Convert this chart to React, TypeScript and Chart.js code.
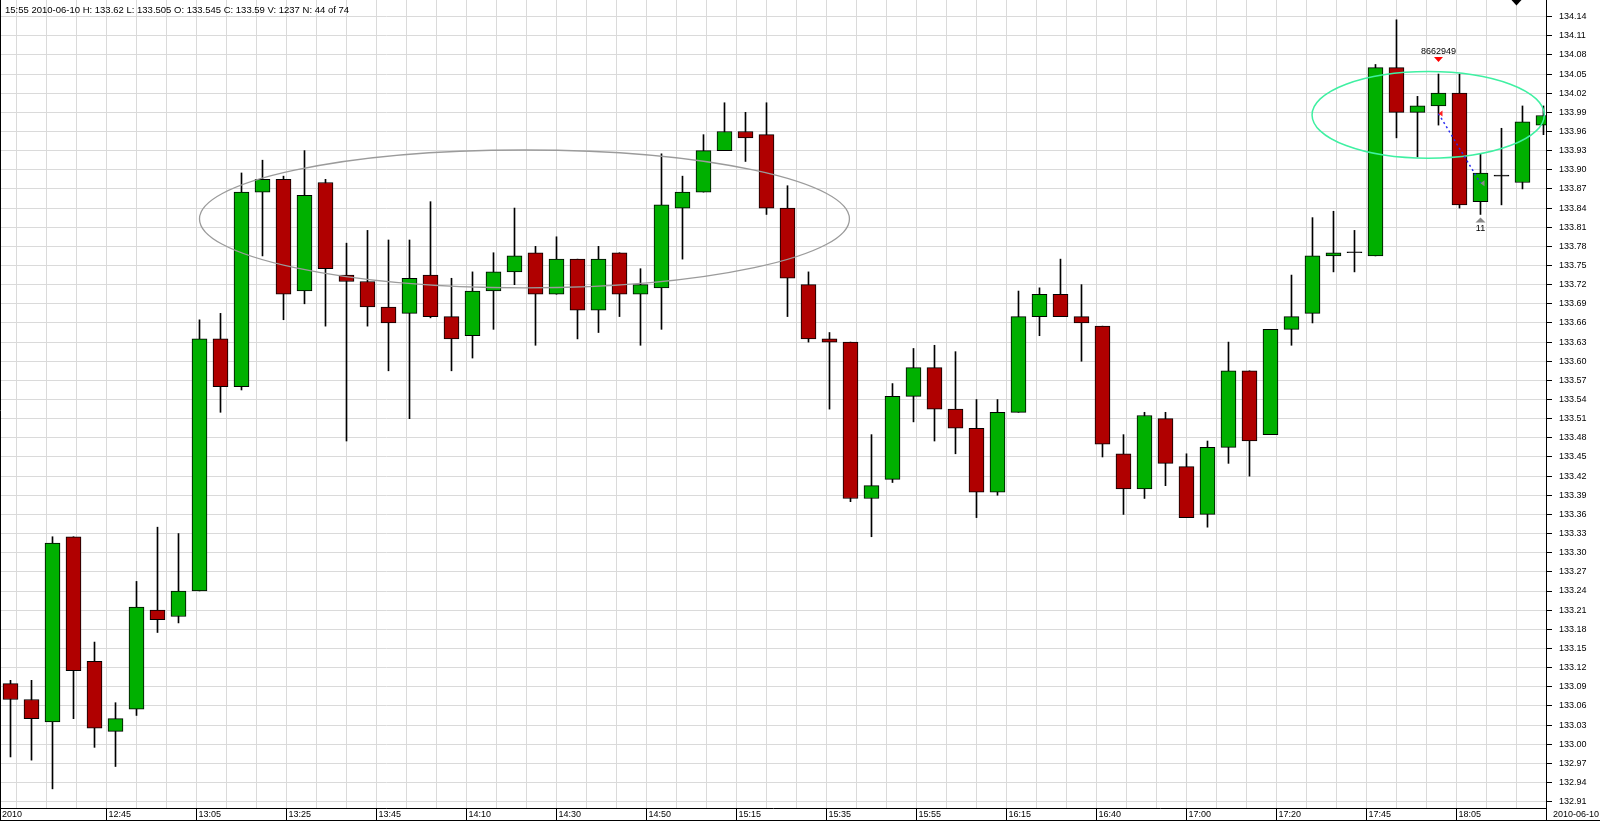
import React, { useEffect, useRef } from 'react';
import { Chart, registerables } from 'chart.js';

Chart.register(...registerables);

// ---------- data ----------
const barTimes = [
  '12:20', '12:25', '12:30', '12:35', '12:40', '12:45', '12:50', '12:55',
  '13:00', '13:05', '13:10', '13:15', '13:20', '13:25', '13:30', '13:35', '13:40', '13:45', '13:50', '13:55',
  '14:00', '14:05', '14:10', '14:15', '14:20', '14:25', '14:30', '14:35', '14:40', '14:45', '14:50', '14:55',
  '15:00', '15:05', '15:10', '15:15', '15:20', '15:25', '15:30', '15:35', '15:40', '15:45', '15:50', '15:55',
  '16:00', '16:05', '16:10', '16:15', '16:20', '16:25', '16:30', '16:35', '16:40', '16:45', '16:50', '16:55',
  '17:00', '17:05', '17:10', '17:15', '17:20', '17:25', '17:30', '17:35', '17:40', '17:45', '17:50', '17:55',
  '18:00', '18:05', '18:10', '18:15', '18:20', '18:25',
];

const opens = [
  133.095, 133.07, 133.035, 133.325, 133.13, 133.02, 133.055, 133.21, 133.20, 133.24,
  133.635, 133.56, 133.865, 133.885, 133.71, 133.88, 133.735, 133.725, 133.685, 133.675,
  133.735, 133.67, 133.64, 133.71, 133.74, 133.77, 133.705, 133.76, 133.68, 133.77,
  133.705, 133.715, 133.84, 133.865, 133.93, 133.96, 133.955, 133.84, 133.72, 133.635,
  133.63, 133.385, 133.415, 133.545, 133.59, 133.525, 133.495, 133.395, 133.52, 133.67,
  133.705, 133.67, 133.655, 133.455, 133.40, 133.51, 133.435, 133.36, 133.465, 133.585,
  133.485, 133.65, 133.675, 133.765, 133.77, 133.765, 134.06, 133.99, 134.00, 134.02,
  133.85, 133.89, 133.88, 133.97,
];

const highs = [
  133.10, 133.10, 133.325, 133.325, 133.16, 133.065, 133.255, 133.34, 133.33, 133.665,
  133.675, 133.895, 133.915, 133.89, 133.93, 133.885, 133.785, 133.805, 133.79, 133.79,
  133.85, 133.73, 133.74, 133.77, 133.84, 133.78, 133.795, 133.76, 133.78, 133.77,
  133.745, 133.925, 133.89, 133.955, 134.005, 133.99, 134.005, 133.875, 133.74, 133.645,
  133.63, 133.485, 133.565, 133.62, 133.625, 133.615, 133.54, 133.54, 133.71, 133.715,
  133.76, 133.72, 133.655, 133.485, 133.52, 133.52, 133.455, 133.475, 133.63, 133.585,
  133.65, 133.735, 133.825, 133.835, 133.805, 134.065, 134.135, 134.015, 134.05, 134.05,
  133.925, 133.965, 134.00, 134.00,
];

const lows = [
  132.98, 132.975, 132.93, 133.04, 132.995, 132.965, 133.045, 133.175, 133.19, 133.24,
  133.52, 133.555, 133.765, 133.665, 133.69, 133.655, 133.475, 133.655, 133.585, 133.51,
  133.668, 133.585, 133.605, 133.65, 133.72, 133.625, 133.705, 133.635, 133.645, 133.67,
  133.625, 133.65, 133.76, 133.865, 133.93, 133.913, 133.83, 133.67, 133.63, 133.525,
  133.38, 133.325, 133.41, 133.505, 133.475, 133.455, 133.355, 133.39, 133.52, 133.64,
  133.67, 133.60, 133.45, 133.36, 133.385, 133.405, 133.355, 133.34, 133.44, 133.42,
  133.485, 133.625, 133.66, 133.74, 133.74, 133.765, 133.95, 133.92, 133.97, 133.84,
  133.83, 133.845, 133.87, 133.955,
];

const closes = [
  133.07, 133.04, 133.315, 133.115, 133.025, 133.04, 133.215, 133.195, 133.24, 133.635,
  133.56, 133.865, 133.885, 133.705, 133.86, 133.745, 133.725, 133.685, 133.66, 133.73,
  133.67, 133.635, 133.71, 133.74, 133.765, 133.705, 133.76, 133.68, 133.76, 133.705,
  133.72, 133.845, 133.865, 133.93, 133.96, 133.95, 133.84, 133.73, 133.635, 133.63,
  133.385, 133.405, 133.545, 133.59, 133.525, 133.495, 133.395, 133.52, 133.67, 133.705,
  133.67, 133.66, 133.47, 133.40, 133.515, 133.44, 133.355, 133.465, 133.585, 133.475,
  133.65, 133.67, 133.765, 133.77, 133.77, 134.06, 133.99, 134.00, 134.02, 133.845,
  133.895, 133.89, 133.975, 133.985,
];

const yTickValues = [
  132.91, 132.94, 132.97, 133.00, 133.03, 133.06, 133.09, 133.12, 133.15, 133.18,
  133.21, 133.24, 133.27, 133.30, 133.33, 133.36, 133.39, 133.42, 133.45, 133.48,
  133.51, 133.54, 133.57, 133.60, 133.63, 133.66, 133.69, 133.72, 133.75, 133.78,
  133.81, 133.84, 133.87, 133.90, 133.93, 133.96, 133.99, 134.02, 134.05, 134.08,
  134.11, 134.14,
];

const headerText = '15:55 2010-06-10 H: 133.62 L: 133.505 O: 133.545 C: 133.59 V: 1237 N: 44 of 74';
const leftDateLabel = '2010';
const rightDateLabel = '2010-06-10';

// drawn objects (in bar-index / price units)
const ellipseBoxes = [
  { x1: 9.0, x2: 39.95, yLow: 133.715, yHigh: 133.931, color: '#9b9b9b', width: 1.3 },
  { x1: 61.98, x2: 73.04, yLow: 133.918, yHigh: 134.054, color: '#3ff0a2', width: 1.5 },
];
const tradeLine = { bar1: 68, price1: 133.988, bar2: 70, price2: 133.879 };
const sellSignal = { bar: 68, text: '8662949' };
const buySignal = { bar: 70, text: '11' };
const cursorMarkerBar = 71.714;

// ---------- style / layout constants ----------
const FONT = "'Liberation Sans', Arial, sans-serif";
const GREEN = '#00b000';
const RED = '#b00000';
const GRID = '#dadada';
const X_MIN = -0.5;
const X_MAX = 73.12;
const Y_MIN = 132.9;
const Y_MAX = 134.166;
const GRID_START = 2 / 7;
const GRID_STEP = 10 / 7;

const bodyColors = opens.map((o, i) => (closes[i] > o ? GREEN : closes[i] < o ? RED : '#000000'));

const overlayPlugin = {
  id: 'overlay',
  afterDraw(chart: any) {
    const ctx = chart.ctx as CanvasRenderingContext2D;
    const xs = chart.scales.x;
    const ys = chart.scales.y;
    const area = chart.chartArea;
    const W = chart.width;
    const H = chart.height;
    ctx.save();

    // ellipses
    for (const e of ellipseBoxes) {
      const px1 = xs.getPixelForValue(e.x1);
      const px2 = xs.getPixelForValue(e.x2);
      const pyTop = ys.getPixelForValue(e.yHigh);
      const pyBot = ys.getPixelForValue(e.yLow);
      ctx.beginPath();
      ctx.strokeStyle = e.color;
      ctx.lineWidth = e.width;
      ctx.ellipse((px1 + px2) / 2, (pyTop + pyBot) / 2, (px2 - px1) / 2, (pyBot - pyTop) / 2, 0, 0, Math.PI * 2);
      ctx.stroke();
    }

    // trade line (dotted)
    const tx1 = xs.getPixelForValue(tradeLine.bar1);
    const ty1 = ys.getPixelForValue(tradeLine.price1);
    const tx2 = xs.getPixelForValue(tradeLine.bar2);
    const ty2 = ys.getPixelForValue(tradeLine.price2);
    ctx.beginPath();
    ctx.setLineDash([2, 3]);
    ctx.strokeStyle = '#2a2af0';
    ctx.lineWidth = 1.5;
    ctx.moveTo(tx1, ty1);
    ctx.lineTo(tx2, ty2);
    ctx.stroke();
    ctx.setLineDash([]);
    ctx.fillStyle = '#ff2020';
    ctx.beginPath();
    ctx.moveTo(tx1 + 4, ty1 - 3);
    ctx.lineTo(tx1 + 4, ty1 + 3);
    ctx.lineTo(tx1, ty1);
    ctx.closePath();
    ctx.fill();
    ctx.fillStyle = '#8a8a8a';
    ctx.beginPath();
    ctx.moveTo(tx2 + 4, ty2 - 3);
    ctx.lineTo(tx2 + 4, ty2 + 3);
    ctx.lineTo(tx2, ty2);
    ctx.closePath();
    ctx.fill();

    ctx.font = `9px ${FONT}`;
    ctx.textAlign = 'center';
    ctx.textBaseline = 'middle';

    // sell signal above bar
    const sx = xs.getPixelForValue(sellSignal.bar);
    const sy = ys.getPixelForValue(highs[sellSignal.bar]);
    ctx.fillStyle = '#ff0000';
    ctx.beginPath();
    ctx.moveTo(sx - 4.5, sy - 17);
    ctx.lineTo(sx + 4.5, sy - 17);
    ctx.lineTo(sx, sy - 12);
    ctx.closePath();
    ctx.fill();
    ctx.fillStyle = '#000';
    ctx.fillText(sellSignal.text, sx, sy - 22.5);

    // buy signal below bar
    const bx = xs.getPixelForValue(buySignal.bar);
    const by = ys.getPixelForValue(lows[buySignal.bar]);
    ctx.fillStyle = '#8a8a8a';
    ctx.beginPath();
    ctx.moveTo(bx - 5, by + 8);
    ctx.lineTo(bx + 5, by + 8);
    ctx.lineTo(bx, by + 3);
    ctx.closePath();
    ctx.fill();
    ctx.fillStyle = '#000';
    ctx.fillText(buySignal.text, bx, by + 14.5);

    // cursor marker at top
    const cx = xs.getPixelForValue(cursorMarkerBar);
    ctx.fillStyle = '#000';
    ctx.beginPath();
    ctx.moveTo(cx - 5, area.top);
    ctx.lineTo(cx + 5, area.top);
    ctx.lineTo(cx, area.top + 5.5);
    ctx.closePath();
    ctx.fill();

    // frame lines
    ctx.strokeStyle = '#000';
    ctx.lineWidth = 1;
    ctx.beginPath();
    ctx.moveTo(0.5, 0);
    ctx.lineTo(0.5, H);
    ctx.moveTo(0, H - 0.5);
    ctx.lineTo(W, H - 0.5);
    ctx.moveTo(Math.round(area.right) + 0.5, 0);
    ctx.lineTo(Math.round(area.right) + 0.5, H);
    ctx.stroke();

    // header and date labels
    ctx.textAlign = 'left';
    ctx.textBaseline = 'middle';
    ctx.fillStyle = '#000';
    ctx.font = `9.5px ${FONT}`;
    ctx.fillText(headerText, 5, 10.5);
    ctx.font = `9px ${FONT}`;
    const labelY = (area.bottom + H) / 2;
    ctx.fillText(leftDateLabel, 2, labelY);
    ctx.fillText(rightDateLabel, area.right + 7, labelY);
    ctx.restore();
  },
};

export default function App() {
  const canvasRef = useRef<HTMLCanvasElement | null>(null);

  useEffect(() => {
    if (!canvasRef.current) return;
    const bodyData = barTimes.map((_, i) => ({ x: i, y: [opens[i], closes[i]] }));
    const wickData = barTimes.map((_, i) => ({ x: i, y: [lows[i], highs[i]] }));

    const chart = new Chart(canvasRef.current, {
      type: 'bar',
      data: {
        datasets: [
          {
            label: 'body',
            data: bodyData as any,
            xAxisID: 'x',
            yAxisID: 'y',
            grouped: false,
            barThickness: 15,
            backgroundColor: bodyColors,
            borderColor: '#000000',
            borderWidth: 1,
            borderSkipped: false,
            minBarLength: 1,
            order: 0,
            clip: 0,
          } as any,
          {
            label: 'wick',
            data: wickData as any,
            xAxisID: 'x',
            yAxisID: 'y',
            grouped: false,
            barThickness: 1,
            backgroundColor: '#000000',
            borderWidth: 0,
            order: 1,
            clip: 0,
          } as any,
        ],
      },
      options: {
        animation: false,
        responsive: false,
        devicePixelRatio: 1,
        events: [],
        layout: { padding: { left: 0, right: 0, top: 0, bottom: 1 }, autoPadding: false } as any,
        plugins: { legend: { display: false }, tooltip: { enabled: false } },
        scales: {
          x: {
            type: 'linear',
            display: false,
            min: X_MIN,
            max: X_MAX,
            offset: false,
            grid: { offset: false },
          },
          xg: {
            type: 'linear',
            axis: 'x',
            position: 'bottom',
            min: X_MIN,
            max: X_MAX,
            offset: false,
            afterBuildTicks: (scale: any) => {
              const t: any[] = [];
              for (let k = 0; GRID_START + k * GRID_STEP <= X_MAX; k++) {
                t.push({ value: GRID_START + k * GRID_STEP });
              }
              scale.ticks = t;
            },
            afterFit: (scale: any) => {
              scale.height = 12;
              scale.paddingLeft = 0;
              scale.paddingRight = 0;
            },
            grid: {
              offset: false,
              color: GRID,
              lineWidth: 1,
              drawTicks: true,
              tickLength: 12,
              tickColor: (c: any) => (c.index > 0 && c.index % 3 === 0 ? '#000000' : 'rgba(0,0,0,0)'),
            },
            border: { display: true, color: '#000000', width: 1 },
            ticks: {
              autoSkip: false,
              maxRotation: 0,
              minRotation: 0,
              align: 'start',
              labelOffset: 2,
              padding: -11,
              color: '#000000',
              font: { family: FONT, size: 9 },
              callback: (value: any, index: number) =>
                index > 0 && index % 3 === 0 ? barTimes[Math.round(Number(value))] ?? '' : '',
            },
          } as any,
          y: {
            type: 'linear',
            position: 'right',
            min: Y_MIN,
            max: Y_MAX,
            beginAtZero: false,
            afterBuildTicks: (scale: any) => {
              scale.ticks = yTickValues.map((v) => ({ value: v }));
            },
            afterFit: (scale: any) => {
              scale.width = 54;
              scale.paddingTop = 0;
              scale.paddingBottom = 0;
            },
            grid: { color: GRID, lineWidth: 1, drawTicks: true, tickLength: 6, tickColor: '#000000' },
            border: { display: true, color: '#000000', width: 1 },
            ticks: {
              autoSkip: false,
              padding: 7,
              color: '#000000',
              font: { family: FONT, size: 9 },
              callback: (value: any) => Number(value).toFixed(2),
            },
          } as any,
        },
      },
      plugins: [overlayPlugin],
    });
    return () => chart.destroy();
  }, []);

  return (
    <div style={{ position: 'fixed', left: 0, top: 0, width: 1600, height: 821, background: '#ffffff' }}>
      <canvas ref={canvasRef} width={1600} height={821} style={{ display: 'block', width: 1600, height: 821 }} />
    </div>
  );
}
